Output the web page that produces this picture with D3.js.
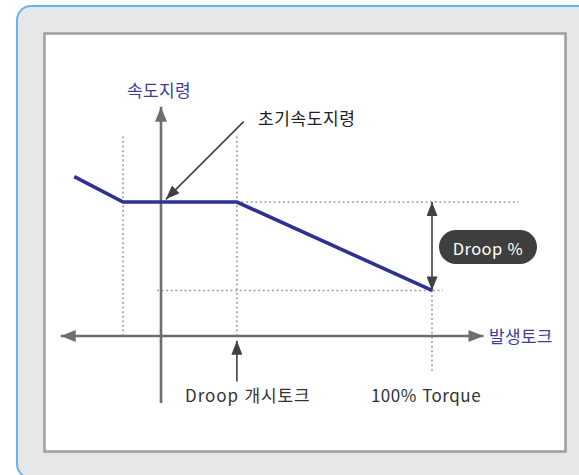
<!DOCTYPE html>
<html lang="ko">
<head>
  <meta charset="UTF-8">
  <title>Droop 특성</title>
  <style>
    body { margin: 0; background: #fff; }
    svg { display: block; }
    text { font-family: "Noto Sans CJK KR", "Noto Sans", sans-serif; }
  </style>
</head>
<body>
  <script src="https://d3js.org/d3.v7.min.js"></script>
  <script>
    const width = 579, height = 475;

    // speed command curve: torque (%) vs speed (% of initial command)
    const curveTorque = [-32, -14, 28, 100];
    const curveSpeed = [119, 100, 100, 34];

    // axis extents in data units
    const xAxisRange = [-37, 119];
    const yAxisRange = [-50, 171];

    // guide lines
    const droopStart = 28, fullTorque = 100, leftGuide = -14;
    const initSpeed = 100, droopSpeed = 34;

    const labels = {
      yTitle: "속도지령",
      xTitle: "발생토크",
      initial: "초기속도지령",
      droopStart: "Droop 개시토크",
      full: "100% Torque",
      droop: "Droop %"
    };

    const svg = d3.select("body").append("svg")
      .attr("width", width)
      .attr("height", height);

    const defs = svg.append("defs");
    function marker(id, color, w, h) {
      defs.append("marker")
        .attr("id", id)
        .attr("viewBox", `0 0 ${h} ${w}`)
        .attr("refX", h).attr("refY", w / 2)
        .attr("markerWidth", h).attr("markerHeight", w)
        .attr("markerUnits", "userSpaceOnUse")
        .attr("orient", "auto-start-reverse")
        .append("path")
        .attr("d", `M0,0L${h},${w / 2}L0,${w}Z`)
        .attr("fill", color);
    }
    marker("axisHead", "#6d6e71", 12, 15);
    marker("noteHead", "#414042", 11, 14);

    // frames
    svg.append("rect")
      .attr("x", 17).attr("y", 6)
      .attr("width", 600).attr("height", 472)
      .attr("rx", 14)
      .attr("fill", "#e6e7e8")
      .attr("stroke", "#6cb2ea")
      .attr("stroke-width", 2);

    svg.append("rect")
      .attr("x", 44.5).attr("y", 33.5)
      .attr("width", 521).attr("height", 418)
      .attr("fill", "#fff")
      .attr("stroke", "#9d9fa2")
      .attr("stroke-width", 2.5);

    const x = d3.scaleLinear().domain([0, 100]).range([161, 432]);
    const y = d3.scaleLinear().domain([0, 100]).range([336, 202]);

    // dotted guides
    const dotted = [
      [[leftGuide, 149], [leftGuide, 0]],
      [[droopStart, 149], [droopStart, 0]],
      [[droopStart, initSpeed], [132, initSpeed]],
      [[-1.5, droopSpeed], [104, droopSpeed]],
      [[fullTorque, droopSpeed], [fullTorque, -27]]
    ];
    svg.append("g").selectAll("line")
      .data(dotted)
      .join("line")
      .attr("x1", d => x(d[0][0])).attr("y1", d => y(d[0][1]))
      .attr("x2", d => x(d[1][0])).attr("y2", d => y(d[1][1]))
      .attr("stroke", "#9d9fa2")
      .attr("stroke-width", 1.6)
      .attr("stroke-dasharray", "2,2.6");

    // axes
    svg.append("line")
      .attr("x1", x(xAxisRange[0])).attr("y1", y(0))
      .attr("x2", x(xAxisRange[1])).attr("y2", y(0))
      .attr("stroke", "#6d6e71").attr("stroke-width", 2.6)
      .attr("marker-start", "url(#axisHead)")
      .attr("marker-end", "url(#axisHead)");

    svg.append("line")
      .attr("x1", x(0)).attr("y1", y(yAxisRange[0]))
      .attr("x2", x(0)).attr("y2", y(yAxisRange[1]))
      .attr("stroke", "#6d6e71").attr("stroke-width", 2.6)
      .attr("marker-end", "url(#axisHead)");

    // speed curve
    const line = d3.line().x(d => x(d[0])).y(d => y(d[1]));
    svg.append("path")
      .datum(d3.zip(curveTorque, curveSpeed))
      .attr("d", line)
      .attr("fill", "none")
      .attr("stroke", "#2e3192")
      .attr("stroke-width", 3.6)
      .attr("stroke-linejoin", "miter");

    // droop double arrow
    svg.append("line")
      .attr("x1", x(fullTorque)).attr("y1", y(initSpeed))
      .attr("x2", x(fullTorque)).attr("y2", y(droopSpeed))
      .attr("stroke", "#414042").attr("stroke-width", 1.6)
      .attr("marker-start", "url(#noteHead)")
      .attr("marker-end", "url(#noteHead)");

    // initial speed note arrow
    svg.append("line")
      .attr("x1", x(30.5)).attr("y1", y(160))
      .attr("x2", x(1.8)).attr("y2", y(102))
      .attr("stroke", "#414042").attr("stroke-width", 1.6)
      .attr("marker-end", "url(#noteHead)");

    // droop start arrow
    svg.append("line")
      .attr("x1", x(droopStart)).attr("y1", y(-34))
      .attr("x2", x(droopStart)).attr("y2", y(-3.5))
      .attr("stroke", "#414042").attr("stroke-width", 1.6)
      .attr("marker-end", "url(#noteHead)");

    // droop % badge
    const badge = svg.append("g").attr("transform", `translate(${x(fullTorque) + 7},230)`);
    badge.append("rect")
      .attr("width", 98).attr("height", 34).attr("rx", 17)
      .attr("fill", "#3f3f40");
    badge.append("text")
      .attr("x", 49).attr("y", 17.5)
      .attr("text-anchor", "middle")
      .attr("dominant-baseline", "central")
      .attr("fill", "#fff")
      .attr("font-size", 16.5)
      .attr("letter-spacing", 0.4)
      .text(labels.droop);

    // texts
    const texts = [
      { t: labels.yTitle, x: 159, y: 89.5, c: "#3c3c99", a: "middle", s: 0.3 },
      { t: labels.xTitle, x: 489, y: 335, c: "#3c3c99", a: "start", s: 0.3 },
      { t: labels.initial, x: 258, y: 117.5, c: "#222", a: "start", s: 0.6 },
      { t: labels.droopStart, x: x(droopStart) + 11, y: 394, c: "#333", a: "middle", s: 0.9 },
      { t: labels.full, x: x(fullTorque) - 6, y: 394, c: "#333", a: "middle", s: 0.5 }
    ];
    svg.append("g").selectAll("text")
      .data(texts)
      .join("text")
      .attr("x", d => d.x).attr("y", d => d.y)
      .attr("text-anchor", d => d.a)
      .attr("dominant-baseline", "central")
      .attr("fill", d => d.c)
      .attr("font-size", 17)
      .attr("letter-spacing", d => d.s)
      .text(d => d.t);
  </script>
</body>
</html>
